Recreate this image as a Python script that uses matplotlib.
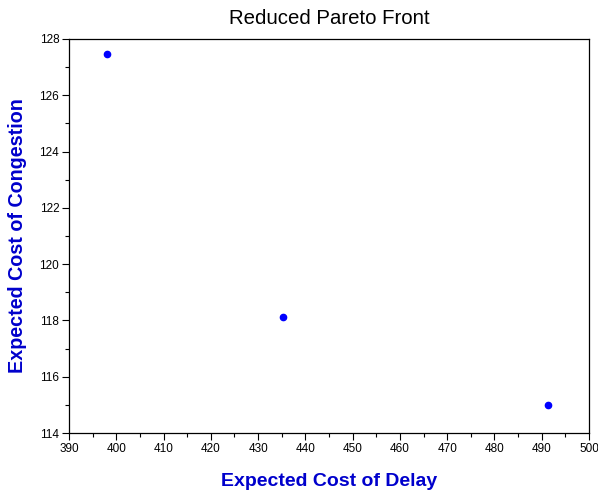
import matplotlib
matplotlib.use("Agg")
import matplotlib.pyplot as plt
from matplotlib.ticker import MultipleLocator

# data
delay = [398.0, 435.2, 491.3]
congestion = [127.47, 118.12, 115.0]

plt.rcParams['font.family'] = ['Liberation Sans', 'DejaVu Sans']

fig = plt.figure(figsize=(5.98, 4.91), dpi=100)
ax = fig.add_axes([0.1154, 0.118, 0.8696, 0.8026])

ax.plot(delay, congestion, 'o', color='#0000ff', markersize=4.5, linestyle='none')

ax.set_xlim(390, 500)
ax.set_ylim(114, 128)
ax.xaxis.set_major_locator(MultipleLocator(10))
ax.xaxis.set_minor_locator(MultipleLocator(5))
ax.yaxis.set_major_locator(MultipleLocator(2))
ax.yaxis.set_minor_locator(MultipleLocator(1))
ax.tick_params(which='major', direction='out', length=5, width=0.8, labelsize=8.5, pad=2)
ax.tick_params(which='minor', direction='out', length=3, width=0.8)
ax.tick_params(top=False, right=False)
for s in ax.spines.values():
    s.set_linewidth(0.9)

ax.set_title('Reduced Pareto Front', fontsize=14.7, pad=11)
ax.set_xlabel('Expected Cost of Delay', fontsize=14, color='#0000cc', fontweight='bold', labelpad=13)
ax.set_ylabel('Expected Cost of Congestion', fontsize=14.2, color='#0000cc', fontweight='bold', labelpad=9)

fig.savefig('out.png', dpi=100)
